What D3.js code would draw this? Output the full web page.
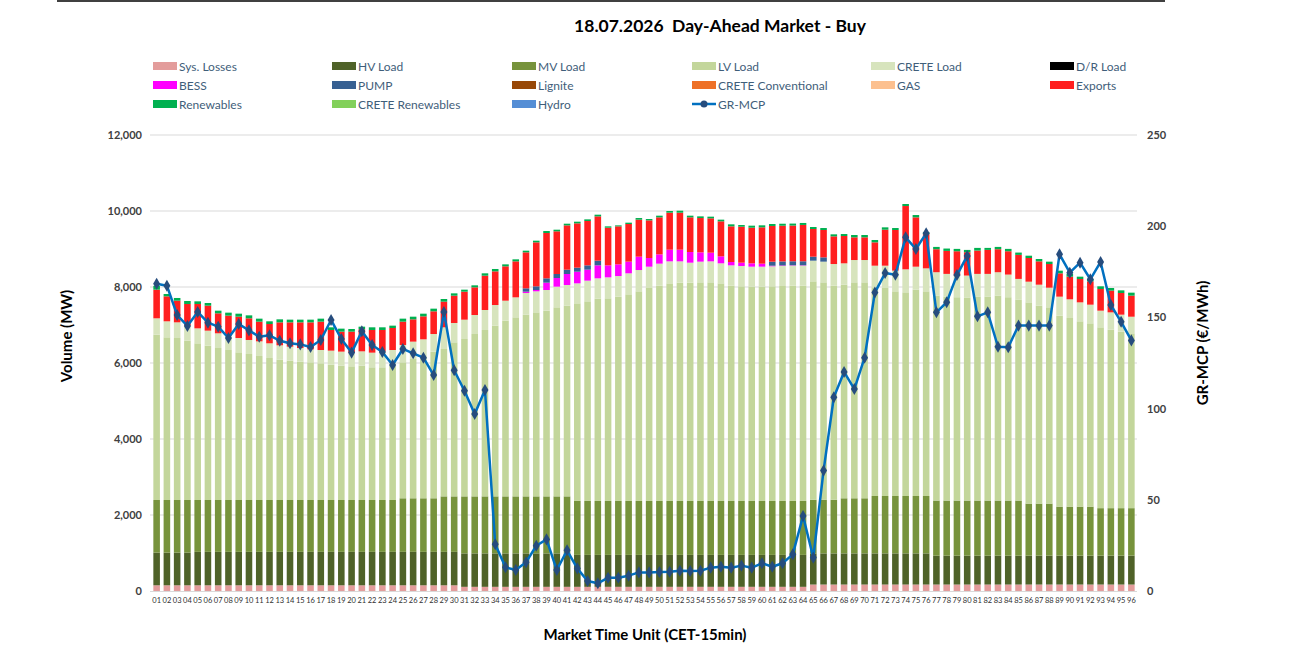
<!DOCTYPE html>
<html>
<head>
<meta charset="utf-8">
<script src="https://cdn.jsdelivr.net/npm/d3@7"></script>
<style>
  body { margin: 0; background: #fff; }
  text { font-family: "Lato", "Open Sans", sans-serif; }
</style>
</head>
<body>
<div id="chart"></div>
<script>
// market time units 01..96
const mtus = d3.range(1, 97).map(d => String(d).padStart(2, "0"));

const sysLosses = [
  150,150,150,150,150,150,150,150,150,150,
  150,150,150,150,150,150,150,150,150,150,
  150,150,150,150,150,150,150,150,150,150,
  110,110,110,110,110,110,110,110,110,110,
  110,110,110,110,110,110,110,110,110,110,
  110,110,110,110,110,110,110,110,110,110,
  110,110,110,110,170,170,170,170,170,170,
  170,170,170,170,170,170,170,170,170,170,
  170,170,170,170,170,170,170,170,170,170,
  170,170,170,170,170,170];

const hvLoad = [
  860,860,860,860,880,880,880,880,880,880,
  880,880,880,880,880,880,880,880,880,880,
  880,880,880,880,880,880,880,880,880,880,
  880,880,880,880,880,880,880,880,880,880,
  880,840,840,840,840,840,840,840,840,840,
  840,840,840,840,840,840,840,840,840,840,
  840,840,840,840,820,820,820,820,820,820,
  820,820,820,820,820,820,760,760,760,760,
  760,760,760,760,760,760,760,760,760,760,
  760,760,760,760,760,760];

const mvLoad = [
  1385,1385,1385,1385,1365,1365,1365,1365,1365,1365,
  1365,1365,1365,1365,1365,1365,1365,1365,1365,1365,
  1365,1365,1365,1365,1410,1410,1410,1410,1460,1460,
  1500,1500,1500,1500,1500,1500,1500,1500,1500,1500,
  1500,1420,1420,1420,1420,1420,1420,1420,1420,1420,
  1420,1420,1420,1420,1420,1420,1420,1420,1420,1420,
  1420,1420,1420,1420,1410,1410,1410,1450,1450,1450,
  1510,1510,1510,1510,1510,1510,1450,1450,1450,1450,
  1450,1450,1450,1450,1450,1370,1370,1370,1290,1290,
  1290,1290,1250,1250,1250,1250];

const lvLoad = [
  4351,4281,4263,4193,4123,4061,4000,3947,3886,3842,
  3790,3737,3693,3667,3641,3623,3597,3562,3535,3518,
  3535,3492,3492,3535,3578,3666,3736,3859,3879,4054,
  4142,4273,4379,4493,4624,4712,4782,4843,4887,4975,
  5019,5200,5253,5323,5332,5376,5437,5516,5604,5665,
  5726,5744,5744,5753,5753,5726,5665,5648,5639,5639,
  5648,5656,5665,5665,5749,5723,5635,5621,5683,5683,
  5491,5474,5386,5360,5430,5386,5395,5369,5351,5334,
  5369,5369,5395,5351,5290,5296,5209,5165,5026,4964,
  4877,4824,4759,4697,4645,4600];

const creteLoad = [
  430,421,412,395,394,395,386,378,377,369,
  385,386,377,368,359,342,350,368,369,359,
  377,385,420,412,456,456,447,464,570,509,
  508,500,526,543,526,526,570,553,544,544,
  544,526,544,535,552,543,553,561,561,579,
  579,561,526,544,552,527,535,535,526,526,
  526,527,527,527,544,544,570,562,587,587,
  570,587,544,605,605,605,614,596,570,587,
  596,596,614,596,543,544,552,517,500,492,
  499,491,438,456,447,438];

const drLoad = [];

const bess = [
  0,0,0,0,0,0,0,0,0,0,
  0,0,0,0,0,0,0,0,0,0,
  0,0,0,0,0,0,0,0,0,0,
  0,0,0,0,0,0,35,35,193,228,
  289,307,289,342,316,307,307,351,228,245,
  307,307,281,245,228,184,88,87,88,79,
  17,15,10,10,0,0,0,0,0,0,
  0,0,0,0,0,0,0,0,0,0,
  0,0,0,0,0,0,0,0,0,0,
  0,0,0,0,0,0];

const pump = [
  0,0,0,0,0,0,0,0,0,0,
  0,0,0,0,0,0,0,0,0,0,
  0,0,0,0,0,0,0,0,0,0,
  0,0,0,0,0,0,88,97,114,105,
  114,106,114,123,0,0,0,0,0,0,
  0,0,0,0,0,0,0,0,0,0,
  105,105,105,105,105,113,0,0,0,0,
  0,0,0,0,0,0,0,0,0,0,
  0,0,0,0,0,0,0,0,0,0,
  0,0,0,0,0,0];

const lignite = [];
const creteConventional = [];
const gas = [];

const exportsMW = [
  754,657,570,570,641,658,526,526,561,570,
  518,508,605,640,675,710,746,544,526,553,
  579,597,562,579,614,587,605,597,675,719,
  737,728,903,886,904,947,947,1157,1193,1123,
  1166,1166,1167,1166,991,1000,991,974,991,974,
  974,974,912,903,904,921,938,947,938,956,
  940,940,940,956,728,720,728,719,597,597,
  614,947,1070,1666,1298,899,605,605,640,614,
  614,631,605,614,632,623,614,623,614,596,
  614,614,570,571,570,554];

const renewables = [
  100,62,71,79,70,70,70,79,79,78,
  79,71,79,71,71,71,79,70,79,70,
  70,70,70,62,79,70,70,70,70,61,
  53,53,62,62,52,53,44,44,52,43,
  44,44,43,44,35,26,35,43,35,44,
  44,52,44,44,44,44,53,44,53,53,
  52,52,52,52,53,52,53,52,61,61,
  62,62,52,53,61,50,61,62,62,61,
  70,53,61,62,61,61,62,62,70,70,
  62,61,71,70,70,79];

const creteRenewables = [];
const hydro = [];

const grMcp = [
  168.5,167.4,151.3,145.3,153.0,147.1,144.9,138.7,146.4,142.9,
  139.4,140.2,137.2,135.8,135.2,133.8,137.6,148.6,138.2,130.7,
  142.4,134.9,131.0,123.9,132.7,130.3,127.9,118.4,153.0,121.0,
  109.8,97.0,110.2,25.6,13.0,11.5,15.7,24.8,28.3,11.5,
  22.3,12.4,5.5,4.2,7.3,7.3,8.4,10.2,10.2,10.4,
  10.6,11.1,11.0,11.1,12.8,13.3,12.8,13.9,12.8,15.2,
  13.3,15.2,20.1,41.1,18.3,66.0,106.2,120.1,110.7,127.9,
  163.6,174.3,173.4,193.9,187.5,196.1,152.8,158.3,173.2,183.7,
  150.6,152.8,133.9,133.6,145.5,145.5,145.5,145.5,184.6,174.5,
  180.0,170.9,180.4,156.8,147.6,137.4];

const volumeTicks = [0, 2000, 4000, 6000, 8000, 10000, 12000];
const priceTicks = [0, 50, 100, 150, 200, 250];

// series in stacking / legend order
const series = [
  {key: "Sys. Losses", values: sysLosses, color: "#E39C9B"},
  {key: "HV Load", values: hvLoad, color: "#4F6228"},
  {key: "MV Load", values: mvLoad, color: "#77933C"},
  {key: "LV Load", values: lvLoad, color: "#C3D69B"},
  {key: "CRETE Load", values: creteLoad, color: "#D7E4BD"},
  {key: "D/R Load", values: drLoad, color: "#000000"},
  {key: "BESS", values: bess, color: "#FF00FF"},
  {key: "PUMP", values: pump, color: "#376092"},
  {key: "Lignite", values: lignite, color: "#984807"},
  {key: "CRETE Conventional", values: creteConventional, color: "#EE7026"},
  {key: "GAS", values: gas, color: "#FCC08F"},
  {key: "Exports", values: exportsMW, color: "#FF1F1F"},
  {key: "Renewables", values: renewables, color: "#00B050"},
  {key: "CRETE Renewables", values: creteRenewables, color: "#82D05A"},
  {key: "Hydro", values: hydro, color: "#558ED5"}
];

const width = 1292, height = 669;
const svg = d3.select("#chart").append("svg")
    .attr("width", width)
    .attr("height", height);

svg.append("rect").attr("width", width).attr("height", height).attr("fill", "#fff");

// top border line
svg.append("line")
    .attr("x1", 57).attr("x2", 1165)
    .attr("y1", 1).attr("y2", 1)
    .attr("stroke", "#000").attr("stroke-width", 1.5);

svg.append("text")
    .attr("x", 720).attr("y", 32)
    .attr("text-anchor", "middle")
    .style("white-space", "pre")
    .style("font-size", "17.5px").style("font-weight", "700")
    .attr("fill", "#000")
    .text("18.07.2026  Day-Ahead Market - Buy");

const x = d3.scaleBand().domain(mtus).range([151.5, 1136.5]).paddingInner(0.36).paddingOuter(0.18);
const y = d3.scaleLinear().domain([0, 12000]).range([591, 135]);
const y2 = d3.scaleLinear().domain([0, 250]).range([591, 135]);

// gridlines
svg.append("g")
    .selectAll("line")
    .data(volumeTicks.filter(d => d > 0))
    .join("line")
    .attr("x1", 150).attr("x2", 1137)
    .attr("y1", d => y(d)).attr("y2", d => y(d))
    .attr("stroke", "#D9D9D9").attr("stroke-width", 1);

// stacked bars
const rows = mtus.map((m, i) => {
    const row = {mtu: m};
    series.forEach(s => { row[s.key] = s.values[i] || 0; });
    return row;
});
const stacked = d3.stack().keys(series.map(s => s.key))(rows);
const colorOf = new Map(series.map(s => [s.key, s.color]));

svg.append("g")
    .selectAll("g")
    .data(stacked)
    .join("g")
    .attr("fill", d => colorOf.get(d.key))
    .selectAll("rect")
    .data(d => d.filter(v => v[1] - v[0] > 0))
    .join("rect")
    .attr("x", d => x(d.data.mtu))
    .attr("width", x.bandwidth())
    .attr("y", d => y(d[1]))
    .attr("height", d => y(d[0]) - y(d[1]));

// x axis baseline
svg.append("line")
    .attr("x1", 150).attr("x2", 1137)
    .attr("y1", 591.5).attr("y2", 591.5)
    .attr("stroke", "#D9D9D9");

const xAxis = svg.append("g")
    .attr("transform", "translate(0,592)")
    .call(d3.axisBottom(x).tickSize(0).tickPadding(6));
xAxis.select(".domain").remove();
xAxis.selectAll("text")
    .style("font-size", "7.5px")
    .attr("fill", "#303030");

const yAxis = svg.append("g")
    .attr("transform", "translate(150,0)")
    .call(d3.axisLeft(y).tickValues(volumeTicks).tickFormat(d3.format(",")).tickSize(0).tickPadding(8));
yAxis.select(".domain").remove();
yAxis.selectAll("text")
    .style("font-size", "11px").style("font-weight", "700")
    .attr("fill", "#404040");

const y2Axis = svg.append("g")
    .attr("transform", "translate(1137,0)")
    .call(d3.axisRight(y2).tickValues(priceTicks).tickSize(0).tickPadding(10));
y2Axis.select(".domain").remove();
y2Axis.selectAll("text")
    .style("font-size", "11px").style("font-weight", "700")
    .attr("fill", "#404040");

// axis titles
svg.append("text")
    .attr("transform", "translate(72,336) rotate(-90)")
    .attr("text-anchor", "middle")
    .style("font-size", "15px").style("font-weight", "700")
    .attr("fill", "#000")
    .text("Volume (MW)");

svg.append("text")
    .attr("transform", "translate(1208,343) rotate(-90)")
    .attr("text-anchor", "middle")
    .style("font-size", "15px").style("font-weight", "700")
    .attr("fill", "#000")
    .text("GR-MCP (€/MWh)");

svg.append("text")
    .attr("x", 645).attr("y", 640)
    .attr("text-anchor", "middle")
    .style("font-size", "15px").style("font-weight", "700")
    .attr("fill", "#000")
    .text("Market Time Unit (CET-15min)");

// GR-MCP line
const cx = (d, i) => x(mtus[i]) + x.bandwidth() / 2;
const line = d3.line().x(cx).y(d => y2(d));

svg.append("path")
    .datum(grMcp)
    .attr("fill", "none")
    .attr("stroke", "#0070C0")
    .attr("stroke-width", 2.5)
    .attr("stroke-linejoin", "round")
    .attr("d", line);

svg.append("g")
    .selectAll("path")
    .data(grMcp)
    .join("path")
    .attr("d", d3.symbol().type(d3.symbolDiamond).size(42))
    .attr("transform", (d, i) => `translate(${cx(d, i)},${y2(d)})`)
    .attr("fill", "#264C7D");

// legend
const legendItems = series.map(s => ({key: s.key, color: s.color, type: "bar"}))
    .concat([{key: "GR-MCP", color: "#0070C0", type: "line"}]);
const colX = [153, 332, 512, 692, 871, 1050];
const rowY = [66, 85, 104];

const legend = svg.append("g")
    .selectAll("g")
    .data(legendItems)
    .join("g")
    .attr("transform", (d, i) => `translate(${colX[i % 6]},${rowY[Math.floor(i / 6)]})`);

legend.filter(d => d.type === "bar")
    .append("rect")
    .attr("x", 0).attr("y", -4)
    .attr("width", 24).attr("height", 8)
    .attr("fill", d => d.color);

const lineLegend = legend.filter(d => d.type === "line");
lineLegend.append("line")
    .attr("x1", 0).attr("x2", 24)
    .attr("stroke", "#0070C0").attr("stroke-width", 2.5);
lineLegend.append("circle")
    .attr("cx", 12).attr("r", 3.5)
    .attr("fill", "#264C7D");

legend.append("text")
    .attr("x", 26).attr("y", 4.5)
    .style("font-size", "12px")
    .attr("fill", "#3F5E7A")
    .text(d => d.key);
</script>
</body>
</html>
